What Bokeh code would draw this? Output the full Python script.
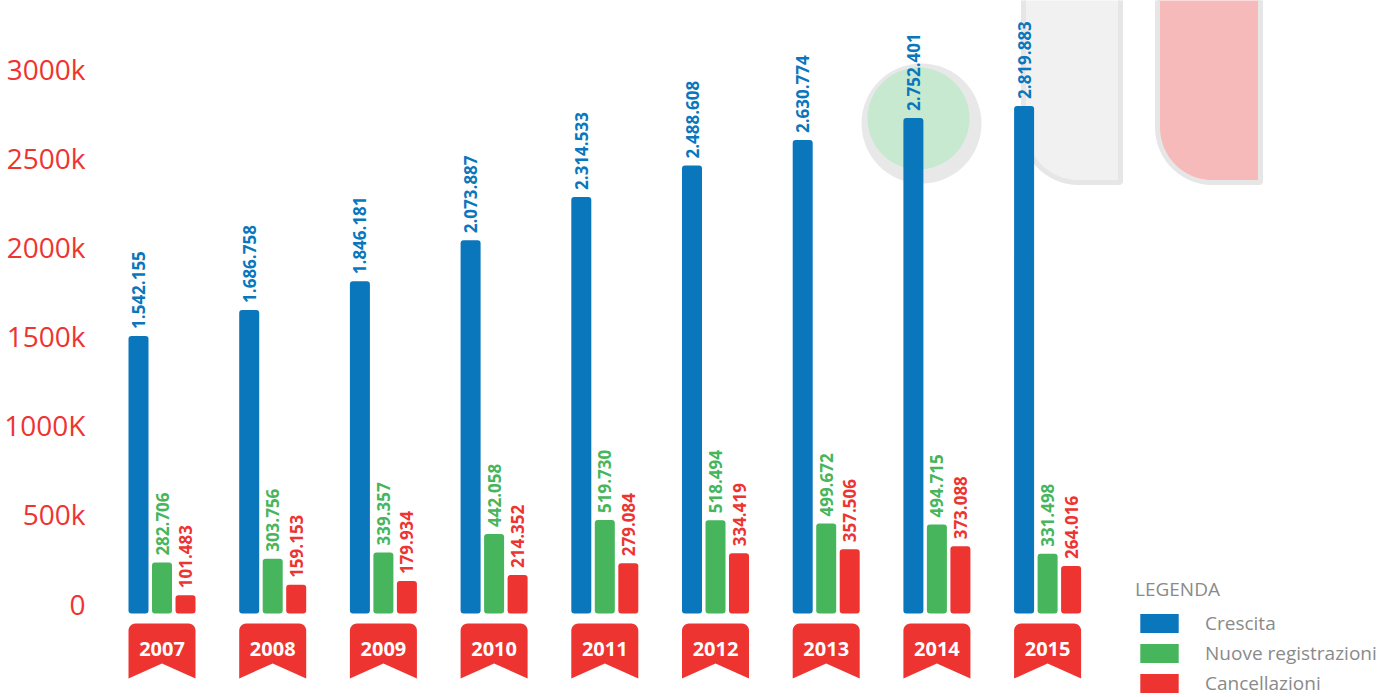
import numpy as np
from bokeh.plotting import figure
from bokeh.models import (ColumnDataSource, Legend, LegendItem, FixedTicker, Range1d,
                          LinearAxis)
from bokeh.core.properties import value
from bokeh.embed import file_html
from bokeh.resources import INLINE

# ---------------- data ----------------
years = ["2007", "2008", "2009", "2010", "2011", "2012", "2013", "2014", "2015"]
crescita = [1542155, 1686758, 1846181, 2073887, 2314533, 2488608, 2630774, 2752401, 2819883]
nuove_registrazioni = [282706, 303756, 339357, 442058, 519730, 518494, 499672, 494715, 331498]
cancellazioni = [101483, 159153, 179934, 214352, 279084, 334419, 357506, 373088, 264016]
series_names = ["Crescita", "Nuove registrazioni", "Cancellazioni"]
y_ticks = [0, 500000, 1000000, 1500000, 2000000, 2500000, 3000000]
y_tick_labels = ["0", "500k", "1000K", "1500k", "2000k", "2500k", "3000k"]

# ---------------- layout / style ----------------
W, H = 1382, 697
LEFT = 100            # px where the plot frame starts
PX_CAT = 110.7        # px between categories
CAT0_PX = 161.5       # px centre of first category
BASE_PX = 613         # px of value 0 for the bars
PX_PER_VAL = 180 / 1e6
AX_BASE_PX = 603      # the printed scale sits a little higher than the bars
AX_PX_PER_VAL = 178.33 / 1e6

BLUE, GREEN, RED = "#0a76bc", "#46b55b", "#ee3431"
colors = [BLUE, GREEN, RED]
GREY_TXT = "#8a8a8a"
FONT = "Open Sans"

x_start = (LEFT - CAT0_PX) / PX_CAT
x_end = x_start + (W - LEFT) / PX_CAT
y_start = -(H - BASE_PX) / PX_PER_VAL
y_end = BASE_PX / PX_PER_VAL


def sx(px):
    return x_start + (px - LEFT) / PX_CAT


def sy(py):
    return (BASE_PX - py) / PX_PER_VAL


p = figure(width=W, height=H, x_range=Range1d(x_start, x_end), y_range=Range1d(y_start, y_end),
           output_backend="svg", toolbar_location=None, x_axis_location=None, y_axis_location=None,
           min_border_left=LEFT, min_border_right=0, min_border_top=0, min_border_bottom=0)
p.grid.visible = False
p.outline_line_color = None
p.background_fill_color = "white"
p.border_fill_color = "white"

# ---------------- watermark shapes (decorative) ----------------
def rounded_bottom_left(x0, x1, y_top, y_bot, r):
    xs, ys = [x0], [y_top]
    t = np.linspace(np.pi, np.pi / 2, 16)
    cx, cy = x0 + r, y_bot - r
    xs += list(cx + r * np.cos(t))
    ys += list(cy + r * np.sin(t))
    xs += [x1, x1]
    ys += [y_bot, y_top]
    return [sx(v) for v in xs], [sy(v) for v in ys]


gx, gy = rounded_bottom_left(1023, 1120, -10, 182, 55)
p.patch(gx, gy, fill_color="#f1f1f1", line_color="#e6e6e6", line_width=5)
rx, ry = rounded_bottom_left(1157, 1260, -10, 182, 55)
p.patch(rx, ry, fill_color="#f6baba", line_color="#e6e6e6", line_width=5)
p.scatter(x=[sx(921)], y=[sy(123)], size=120, marker="circle", fill_color="#e8e8e8", line_color=None)
p.scatter(x=[sx(918)], y=[sy(118)], size=102, marker="circle", fill_color="#c6e9d0", line_color=None)

# ---------------- bars ----------------
idx = np.arange(len(years))
offsets = [-23.5 / PX_CAT, 0.0, 23.5 / PX_CAT]
bar_w = 20 / PX_CAT
series = [crescita, nuove_registrazioni, cancellazioni]

renderers = []
for vals, off, col in zip(series, offsets, colors):
    src = ColumnDataSource(dict(
        x=idx + off, top=vals,
        lab=[f"{v:,}".replace(",", ".") for v in vals]))
    r = p.vbar(x="x", top="top", bottom=0, width=bar_w, source=src,
               fill_color=col, line_color=None, border_radius=3)
    renderers.append(r)
    p.text(x="x", y="top", text="lab", source=src, angle=np.pi / 2,
           text_align="left", text_baseline="middle", y_offset=-7,
           text_font=value(FONT), text_font_style="bold", text_font_size="17px",
           text_color=col)

# ---------------- year ribbons ----------------
def ribbon(cx):
    half, top, bot, notch, r = 33.5, 623, 678, 663, 7
    xs, ys = [cx - half], [bot]
    t = np.linspace(np.pi, np.pi / 2, 8)
    xs += list(cx - half + r + r * np.cos(t))
    ys += list(top + r - r * np.sin(t))
    t = np.linspace(np.pi / 2, 0, 8)
    xs += list(cx + half - r + r * np.cos(t))
    ys += list(top + r - r * np.sin(t))
    xs += [cx + half, cx]
    ys += [bot, notch]
    return [sx(v) for v in xs], [sy(v) for v in ys]


rib_x, rib_y = [], []
for i in idx:
    a, b = ribbon(CAT0_PX + PX_CAT * i)
    rib_x.append(a)
    rib_y.append(b)
p.patches(rib_x, rib_y, fill_color=RED, line_color=None)
p.text(x=list(idx), y=[sy(648)] * len(years), text=years, text_font=value(FONT),
       text_font_style="bold", text_font_size="20px", text_color="white",
       text_align="center", text_baseline="middle")

# ---------------- y axis (printed scale) ----------------
p.extra_y_ranges = {"scale": Range1d(-(H - AX_BASE_PX) / AX_PX_PER_VAL, AX_BASE_PX / AX_PX_PER_VAL)}
ax = LinearAxis(y_range_name="scale")
ax.ticker = FixedTicker(ticks=y_ticks)
ax.major_label_overrides = dict(zip(y_ticks, y_tick_labels))
ax.major_label_text_font = FONT
ax.major_label_text_font_size = "28px"
ax.major_label_text_color = RED
ax.major_label_standoff = 9
ax.axis_line_color = None
ax.major_tick_line_color = None
ax.minor_tick_line_color = None
p.add_layout(ax, "left")

# ---------------- legend ----------------
legend = Legend(
    items=[LegendItem(label=n, renderers=[r]) for n, r in zip(series_names, renderers)],
    location=(1035, 1), title="LEGENDA",
    title_text_font=FONT, title_text_font_size="19px", title_text_font_style="normal",
    title_text_color=GREY_TXT, title_standoff=8,
    label_text_font=FONT, label_text_font_size="19px", label_text_color=GREY_TXT,
    glyph_width=48, glyph_height=24, label_height=24, label_standoff=22, spacing=4,
    padding=0, margin=0, border_line_color=None, background_fill_alpha=0)
p.add_layout(legend)

open("out.html", "w").write(file_html(p, INLINE))
